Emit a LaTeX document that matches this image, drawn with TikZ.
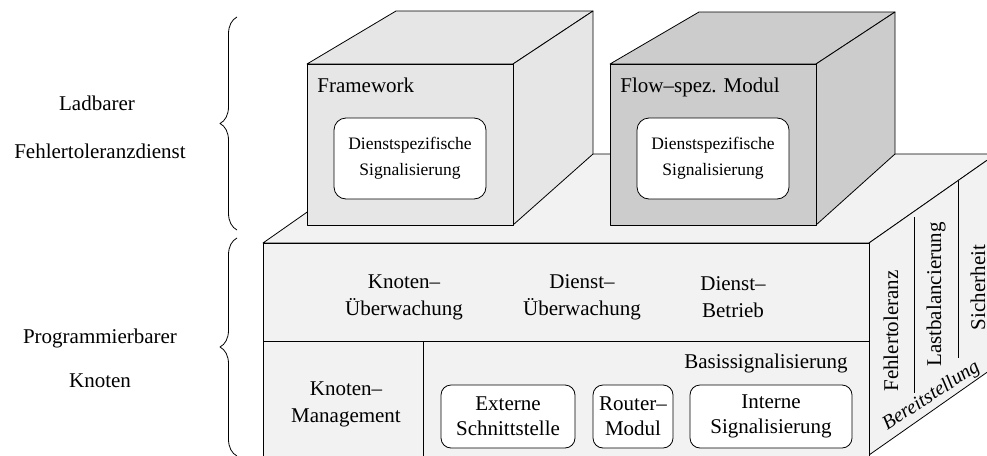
\documentclass[tikz,border=0pt]{standalone}
\usepackage{fontspec}
\setmainfont{Liberation Serif}
\usetikzlibrary{decorations.pathreplacing}
\definecolor{basegray}{HTML}{F2F2F2}
\definecolor{fwgray}{HTML}{E6E6E6}
\definecolor{flowgray}{HTML}{CCCCCC}
\begin{document}
\begin{tikzpicture}[x=1pt,y=-1pt,line width=0.8pt,line join=round,
  face/.style={draw=black},
  lbl/.style={inner sep=0pt,align=center,font=\fontsize{21}{27}\selectfont},
  boxtext/.style={inner sep=0pt,align=center,font=\fontsize{21}{25}\selectfont},
  smalltext/.style={inner sep=0pt,align=center,font=\fontsize{17.5}{26}\selectfont},
  rbox/.style={draw=black,fill=white,rounded corners=10pt,inner sep=0pt,align=center},
  bracedeco/.style={decorate,decoration={brace,amplitude=17pt}}]
\useasboundingbox (0,0) rectangle (987,455);
\clip (0,0) rectangle (987,455);

% base block: programmable node
\filldraw[face,fill=basegray] (263,243) -- (390,154) -- (996,154) -- (869,243) -- cycle;
\filldraw[face,fill=basegray] (869,243) -- (996,154) -- (996,366) -- (869,455) -- cycle;
\filldraw[face,fill=basegray] (263,243) rectangle (869,458);
\draw (263,341) -- (869,341);
\draw (423,341) -- (423,458);

% separators on the side face
\draw (914,217) -- (914,393);
\draw (958,181) -- (958,358);

% framework cube
\filldraw[face,fill=fwgray] (307,64) -- (396,11) -- (593,11) -- (513,64) -- cycle;
\filldraw[face,fill=fwgray] (513,64) -- (593,11) -- (593,154) -- (513,225) -- cycle;
\filldraw[face,fill=fwgray] (307,64) rectangle (513,225);

% flow-specific module cube
\filldraw[face,fill=flowgray] (610,64) -- (699,12) -- (895,12) -- (816,64) -- cycle;
\filldraw[face,fill=flowgray] (816,64) -- (895,12) -- (895,154) -- (816,225) -- cycle;
\filldraw[face,fill=flowgray] (610,64) rectangle (816,225);

% cube labels and inner boxes
\node[lbl,anchor=base west] (fwl) at (317,92) {Framework};
\node[lbl,anchor=base west] (flowl) at (620,92) {Flow–spez. Modul};
\node[rbox,smalltext,rounded corners=12pt,minimum width=152pt,minimum height=81pt] (fwsig) at (410,158.5) {Dienstspezifische\\Signalisierung};
\node[rbox,smalltext,rounded corners=12pt,minimum width=152pt,minimum height=81pt] (flowsig) at (713,158.5) {Dienstspezifische\\Signalisierung};

% upper row of the base
\node[lbl] (kue) at (404,297) {Knoten–\\Überwachung};
\node[lbl] (due) at (582,297) {Dienst–\\Überwachung};
\node[lbl] (dbe) at (733,297) {Dienst–\\Betrieb};

% lower row of the base
\node[lbl] (kma) at (346,404) {Knoten–\\Management};
\node[lbl,anchor=base east] (basis) at (848,368) {Basissignalisierung};
\node[rbox,boxtext,minimum width=134pt,minimum height=63pt] (ext) at (508,416.5) {Externe\\Schnittstelle};
\node[rbox,boxtext,minimum width=80pt,minimum height=63pt] (rout) at (633,416.5) {Router–\\Modul};
\node[rbox,boxtext,minimum width=162pt,minimum height=63pt] (int) at (771,416.5) {Interne\\Signalisierung};

% side face labels
\node[lbl,rotate=90,anchor=base] (ft) at (898,331) {Fehlertoleranz};
\node[lbl,rotate=90,anchor=base] (lb) at (941,294.5) {Lastbalancierung};
\node[lbl,rotate=90,anchor=base] (sh) at (985,287.5) {Sicherheit};
\node[lbl,font=\fontsize{20}{24}\selectfont\itshape,rotate=33,anchor=base] (bereit) at (934,400) {Bereitstellung};

% layer captions with braces
\node[lbl,anchor=base] (lad) at (97,110) {Ladbarer};
\node[lbl,anchor=base] (fehl) at (100,158) {Fehlertoleranzdienst};
\node[lbl,anchor=base] (prog) at (100,343) {Programmierbarer};
\node[lbl,anchor=base] (knot) at (100,387) {Knoten};
\draw[bracedeco] (237,230) -- (237,17);
\draw[bracedeco] (237,456) -- (237,238);
\end{tikzpicture}
\end{document}
